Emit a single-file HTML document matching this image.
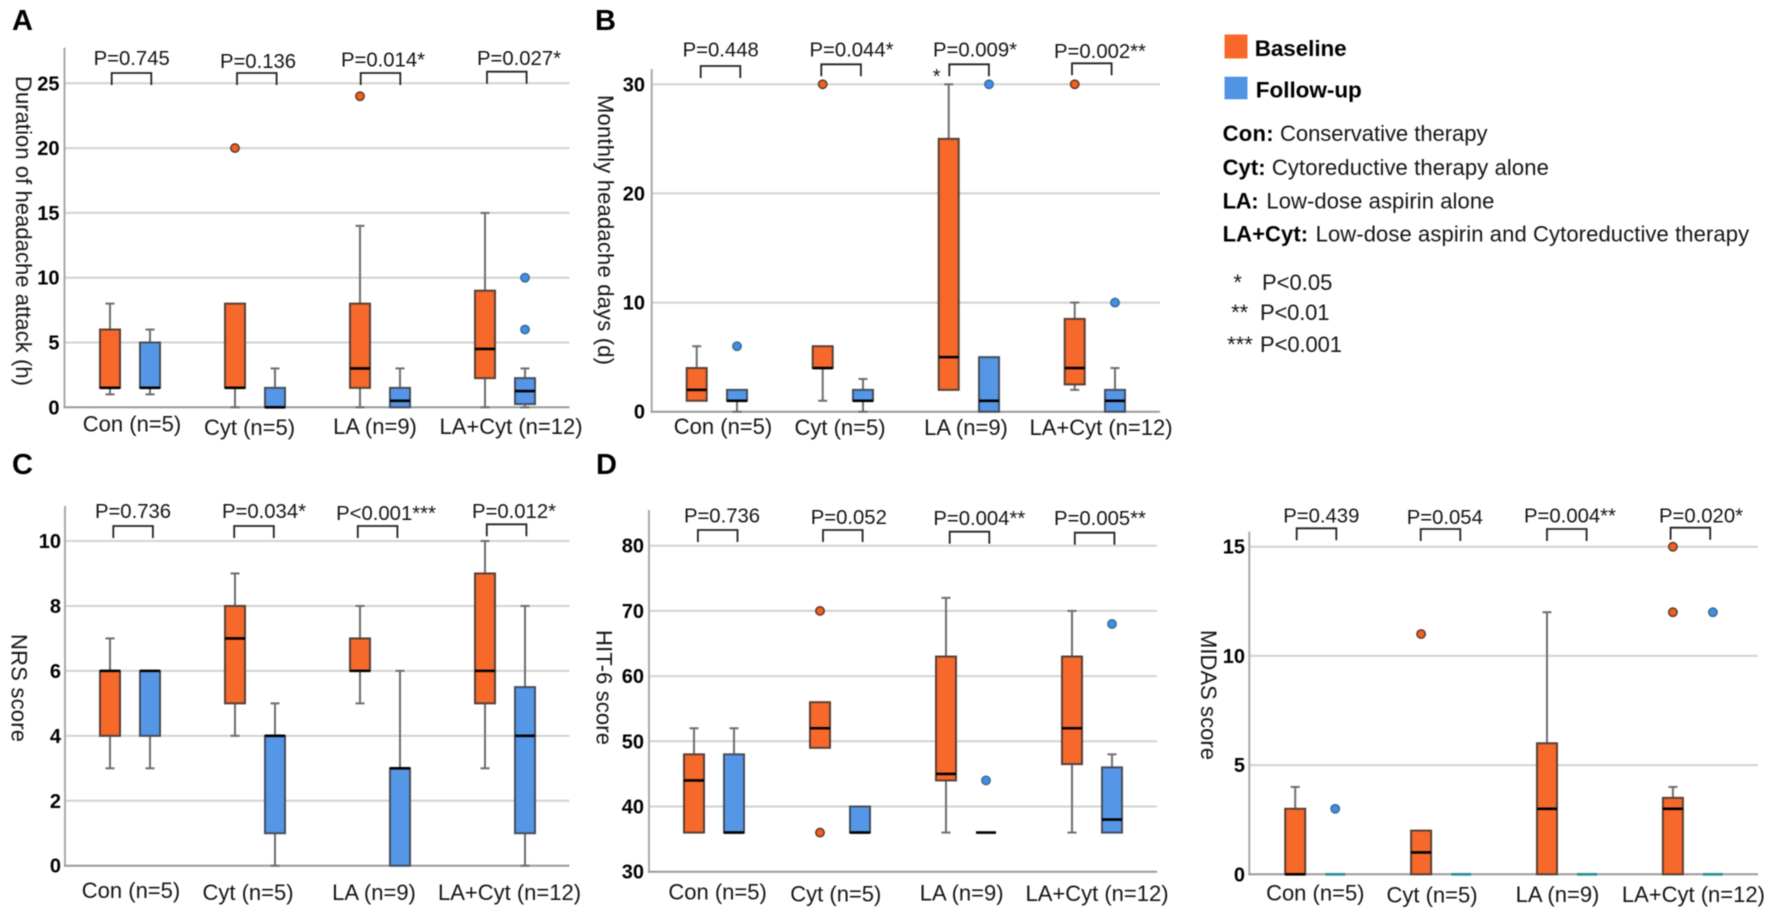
<!DOCTYPE html>
<html lang="en">
<head>
<meta charset="utf-8">
<title>Headache outcomes at baseline and follow-up</title>
<style>
html,body{margin:0;padding:0;background:#fff;}
#figure{display:block;width:1772px;height:914px;filter:blur(0.55px);font-family:"Liberation Sans",Arial,sans-serif;}
text{fill:#141414;}
.lg{font-size:22px;}
.lgb{font-size:22px;font-weight:bold;fill:#000;}
.sig{font-size:22px;}
.letter{font-size:29px;font-weight:bold;fill:#000;}
</style>
</head>
<body>
<svg id="figure" xmlns="http://www.w3.org/2000/svg" width="1772" height="914" viewBox="0 0 1772 914">
  <rect x="0" y="0" width="1772" height="914" fill="#fff"/>
  <text class="letter" x="12" y="30">A</text>
  <text class="letter" x="595" y="30">B</text>
  <text class="letter" x="12" y="474">C</text>
  <text class="letter" x="596" y="474">D</text>

  <g>
    <g>
      <rect x="1224.5" y="34.5" width="23" height="24" fill="#f8682a"/>
      <text x="1254.7" y="56" font-size="22.5" font-weight="bold" style="fill:#000" textLength="92">Baseline</text>
    </g>
    <g>
      <rect x="1224.5" y="76.7" width="23" height="22.6" fill="#5294e4"/>
      <text x="1255.8" y="97.3" font-size="22.5" font-weight="bold" style="fill:#000" textLength="106">Follow-up</text>
    </g>
    <g>
      <text class="lgb" x="1222.6" y="141" textLength="51">Con:</text>
      <text class="lg" x="1280" y="141" textLength="207.5">Conservative therapy</text>
    </g>
    <g>
      <text class="lgb" x="1222.6" y="175" textLength="43">Cyt:</text>
      <text class="lg" x="1271.9" y="175" textLength="277">Cytoreductive therapy alone</text>
    </g>
    <g>
      <text class="lgb" x="1222.6" y="208.3" textLength="36">LA:</text>
      <text class="lg" x="1266.4" y="208.3" textLength="228">Low-dose aspirin alone</text>
    </g>
    <g>
      <text class="lgb" x="1222.6" y="241.7" textLength="85.5">LA+Cyt:</text>
      <text class="lg" x="1315.6" y="241.7" textLength="433.5">Low-dose aspirin and Cytoreductive therapy</text>
    </g>
    <g>
      <text class="sig" x="1237.6" y="290" text-anchor="middle">*</text>
      <text class="sig" x="1262" y="290" textLength="70.4">P&lt;0.05</text>
      <text class="sig" x="1239.7" y="320" text-anchor="middle">**</text>
      <text class="sig" x="1260" y="320" textLength="69.5">P&lt;0.01</text>
      <text class="sig" x="1240" y="352" text-anchor="middle">***</text>
      <text class="sig" x="1260" y="352" textLength="82">P&lt;0.001</text>
    </g>
  </g>
</svg>

<script>
// ---------- Data ----------
// Each box: [lower whisker, Q1, median, Q3, upper whisker]
const groupLabels = ['Con (n=5)', 'Cyt (n=5)', 'LA (n=9)', 'LA+Cyt (n=12)'];

const durationTicks = [0, 5, 10, 15, 20, 25];
const durationBaseline = [[1, 1.5, 1.5, 6, 8], [0, 1.5, 1.5, 8, 8], [0, 1.5, 3, 8, 14], [0, 2.25, 4.5, 9, 15]];
const durationFollowUp = [[1, 1.5, 1.5, 5, 6], [0, 0, 0, 1.5, 3], [0, 0, 0.5, 1.5, 3], [0, 0.25, 1.25, 2.25, 3]];
const durationBaselineOutliers = [[], [20], [24], []];
const durationFollowUpOutliers = [[], [], [], [6, 10]];
const durationPValues = ['P=0.745', 'P=0.136', 'P=0.014*', 'P=0.027*'];

const daysTicks = [0, 10, 20, 30];
const daysBaseline = [[1, 1, 2, 4, 6], [1, 4, 4, 6, 6], [2, 2, 5, 25, 30], [2, 2.5, 4, 8.5, 10]];
const daysFollowUp = [[0, 1, 1, 2, 2], [0, 1, 1, 2, 3], [0, 0, 1, 5, 5], [0, 0, 1, 2, 4]];
const daysBaselineOutliers = [[], [30], [], [30]];
const daysFollowUpOutliers = [[6], [], [30], [10]];
const daysPValues = ['P=0.448', 'P=0.044*', 'P=0.009*', 'P=0.002**'];

const nrsTicks = [0, 2, 4, 6, 8, 10];
const nrsBaseline = [[3, 4, 6, 6, 7], [4, 5, 7, 8, 9], [5, 6, 6, 7, 8], [3, 5, 6, 9, 10]];
const nrsFollowUp = [[3, 4, 6, 6, 6], [0, 1, 4, 4, 5], [0, 0, 3, 3, 6], [0, 1, 4, 5.5, 8]];
const nrsBaselineOutliers = [[], [], [], []];
const nrsFollowUpOutliers = [[], [], [], []];
const nrsPValues = ['P=0.736', 'P=0.034*', 'P<0.001***', 'P=0.012*'];

const hitTicks = [30, 40, 50, 60, 70, 80];
const hitBaseline = [[36, 36, 44, 48, 52], [49, 49, 52, 56, 56], [36, 44, 45, 63, 72], [36, 46.5, 52, 63, 70]];
const hitFollowUp = [[36, 36, 36, 48, 52], [36, 36, 36, 40, 40], [36, 36, 36, 36, 36], [36, 36, 38, 46, 48]];
const hitBaselineOutliers = [[], [36, 70], [], []];
const hitFollowUpOutliers = [[], [], [44], [68]];
const hitPValues = ['P=0.736', 'P=0.052', 'P=0.004**', 'P=0.005**'];

const midasTicks = [0, 5, 10, 15];
const midasBaseline = [[0, 0, 0, 3, 4], [0, 0, 1, 2, 2], [0, 0, 3, 6, 12], [0, 0, 3, 3.5, 4]];
const midasFollowUp = [[0, 0, 0, 0, 0], [0, 0, 0, 0, 0], [0, 0, 0, 0, 0], [0, 0, 0, 0, 0]];
const midasBaselineOutliers = [[], [11], [], [12, 15]];
const midasFollowUpOutliers = [[3], [], [], [12]];
const midasPValues = ['P=0.439', 'P=0.054', 'P=0.004**', 'P=0.020*'];

// ---------- Panels: layout is kept apart from the data ----------
const panels = [
  { id: 'duration', title: 'Duration of headache attack (h)', ticks: durationTicks,
    baseline: durationBaseline, followUp: durationFollowUp,
    baselineOutliers: durationBaselineOutliers, followUpOutliers: durationFollowUpOutliers, pValues: durationPValues,
    layout: { axisX: 64.5, right: 569.5, top: 47.7, yBottom: 407.3, yTop: 83.3, tickRight: 59.5,
      first: 110, step: 125, gap: 40, titleX: 23, titleY: 231, titleLen: 310,
      pX: [131.7, 258, 383, 519], pY: [65, 68, 66.7, 65], labelX: [132, 249.5, 375, 511], labelY: [431.7, 435, 434, 434],
      bracketNudge: [1.7, 2, 0.7, 2], bracketTop: [73, 73, 73, 71.7] } },
  { id: 'monthly-days', title: 'Monthly headache days (d)', ticks: daysTicks,
    baseline: daysBaseline, followUp: daysFollowUp,
    baselineOutliers: daysBaselineOutliers, followUpOutliers: daysFollowUpOutliers, pValues: daysPValues,
    layout: { axisX: 651.7, right: 1160, top: 69, yBottom: 411.7, yTop: 84.3, tickRight: 645,
      first: 696.7, step: 126, gap: 40.3, titleX: 605, titleY: 230, titleLen: 270,
      pX: [720.7, 851.5, 975, 1100], pY: [56.7, 56.7, 56.7, 58], labelX: [723, 840, 966, 1101], labelY: [434, 435, 435, 435],
      bracketNudge: [4, -1.4, 0.6, -2.7], bracketTop: [66, 64.3, 64.3, 63.3] } },
  { id: 'nrs', title: 'NRS score', ticks: nrsTicks,
    baseline: nrsBaseline, followUp: nrsFollowUp,
    baselineOutliers: nrsBaselineOutliers, followUpOutliers: nrsFollowUpOutliers, pValues: nrsPValues,
    layout: { axisX: 65, right: 569.5, top: 506, yBottom: 865.7, yTop: 541, tickRight: 61,
      first: 110, step: 125, gap: 40, titleX: 18.5, titleY: 688, titleLen: 108,
      pX: [133, 264, 386, 514], pY: [518, 518, 520, 518], labelX: [131, 248, 374, 509.5], labelY: [898, 900, 900, 900],
      bracketNudge: [3.3, -0.8, -2.2, 1.8], bracketTop: [526, 526, 526, 524.3] } },
  { id: 'hit6', title: 'HIT-6 score', ticks: hitTicks,
    baseline: hitBaseline, followUp: hitFollowUp,
    baselineOutliers: hitBaselineOutliers, followUpOutliers: hitFollowUpOutliers, pValues: hitPValues,
    layout: { axisX: 649, right: 1157, top: 510, yBottom: 871.7, yTop: 545.7, tickRight: 644,
      first: 694, step: 126, gap: 40, titleX: 603.7, titleY: 687.5, titleLen: 115,
      pX: [722, 848.8, 979.3, 1100], pY: [522.3, 524, 525, 525], labelX: [717.6, 835.8, 961.7, 1097], labelY: [899.3, 901.7, 900.5, 901],
      bracketNudge: [3.9, 3, 3.7, 2.8], bracketTop: [530, 530, 531.7, 532.7] } },
  { id: 'midas', title: 'MIDAS score', ticks: midasTicks,
    baseline: midasBaseline, followUp: midasFollowUp,
    baselineOutliers: midasBaselineOutliers, followUpOutliers: midasFollowUpOutliers, pValues: midasPValues,
    layout: { axisX: 1249.3, right: 1758, top: 531.7, yBottom: 874.3, yTop: 546.7, tickRight: 1245,
      first: 1295.2, step: 125.9, gap: 40, titleX: 1208, titleY: 695, titleLen: 130, flatColor: '#2a8f90',
      pX: [1321.3, 1444.8, 1570, 1701], pY: [522.3, 524, 522.5, 522.5], labelX: [1315.3, 1432, 1557.5, 1693.4], labelY: [900.7, 902.7, 902, 902],
      bracketNudge: [1.5, -0.4, 0, -2.3], bracketTop: [528.3, 529, 529, 527.7] } }
];

const svg = document.getElementById('figure');
const NS = 'http://www.w3.org/2000/svg';
const ORANGE = '#f6692b', BLUE = '#5696e6';

function mk(tag, attrs, parent, content) {
  const el = document.createElementNS(NS, tag);
  for (const k in attrs) el.setAttribute(k, attrs[k]);
  if (content !== undefined) el.textContent = content;
  parent.appendChild(el);
  return el;
}

function drawBox(parent, x, v, fill, edge, y, flatColor, name) {
  const g = mk('g', {}, parent);
  
  
  const low = v[0], q1 = v[1], med = v[2], q3 = v[3], high = v[4];
  const halfBox = 10, halfCap = 4.5;
  const drawWhisker = (a, b) => {
    const stem = mk('line', { x1: x, x2: x, y1: y(a), y2: y(b), stroke: '#6e6e6e', 'stroke-width': 2 }, g);
    
    
    const cap = mk('line', { x1: x - halfCap, x2: x + halfCap, y1: y(b), y2: y(b), stroke: '#6e6e6e', 'stroke-width': 2 }, g);
    
    
  };
  if (low < q1) drawWhisker(q1, low);
  if (high > q3) drawWhisker(q3, high);
  if (q3 > q1) {
    const rect = mk('rect', { x: x - halfBox, y: y(q3), width: halfBox * 2, height: y(q1) - y(q3), fill: fill, stroke: edge, 'stroke-width': 2 }, g);
    
    
  }
  const medColor = (q3 === q1 && flatColor) ? flatColor : '#000';
  const median = mk('line', { x1: x - halfBox, x2: x + halfBox, y1: y(med), y2: y(med), stroke: medColor, 'stroke-width': 2.6 }, g);
  
  
}

function drawOutliers(parent, x, values, fill, edge, y, name) {
  values.forEach(function (val) {
    const c = mk('circle', { cx: x, cy: y(val), r: 4.2, fill: fill, stroke: edge, 'stroke-width': 1.5 }, parent);
    
    
  });
}

panels.forEach(function (p) {
  const L = p.layout;
  const vMin = p.ticks[0], vMax = p.ticks[p.ticks.length - 1];
  const y = function (v) { return L.yBottom - (v - vMin) / (vMax - vMin) * (L.yBottom - L.yTop); };
  const xBase = function (i) { return L.first + i * L.step; };
  const xFollow = function (i) { return xBase(i) + L.gap; };

  const g = mk('g', {}, svg);
  
  

  // gridlines and tick labels
  p.ticks.forEach(function (t, i) {
    if (i > 0) {
      const gl = mk('line', { x1: L.axisX, x2: L.right, y1: y(t), y2: y(t), stroke: '#d2d2d2', 'stroke-width': 2 }, g);
      
      
    }
    const tl = mk('text', { x: L.tickRight, y: y(t) + 7, 'text-anchor': 'end', 'font-size': 20, 'font-weight': 'bold', style: 'fill:#000' }, g, String(t));
    
    
  });

  // axes
  const ya = mk('line', { x1: L.axisX, x2: L.axisX, y1: L.top, y2: L.yBottom + 1, stroke: '#a9a9a9', 'stroke-width': 2 }, g);
  
  
  const xa = mk('line', { x1: L.axisX - 1, x2: L.right, y1: L.yBottom, y2: L.yBottom, stroke: '#9a9a9a', 'stroke-width': 2 }, g);
  
  

  // axis title
  const title = mk('text', { 'text-anchor': 'middle', 'font-size': 22, textLength: L.titleLen, transform: 'translate(' + (L.titleX - 7) + ',' + L.titleY + ') rotate(90)' }, g, p.title);
  
  

  // boxes and outliers
  groupLabels.forEach(function (label, i) {
    drawBox(g, xBase(i), p.baseline[i], ORANGE, '#5a4034', y, null, 'box-baseline-' + i);
    drawBox(g, xFollow(i), p.followUp[i], BLUE, '#434f5e', y, L.flatColor, 'box-follow-up-' + i);
    drawOutliers(g, xBase(i), p.baselineOutliers[i], '#f4611f', '#5e3a2a', y, 'outlier-baseline');
    drawOutliers(g, xFollow(i), p.followUpOutliers[i], '#3f8fe3', '#3f6a96', y, 'outlier-follow-up');

    const xl = mk('text', { x: L.labelX[i], y: L.labelY[i], 'text-anchor': 'middle', 'font-size': 22 }, g, label);
    
    

    const left = xBase(i) + L.bracketNudge[i], top = L.bracketTop[i];
    const br = mk('path', { d: 'M' + left + ' ' + (top + 12) + 'V' + top + 'H' + (left + 39.6) + 'V' + (top + 12), fill: 'none', stroke: '#222', 'stroke-width': 1.8 }, g);
    
    

    const pl = mk('text', { x: L.pX[i], y: L.pY[i], 'text-anchor': 'middle', 'font-size': 20.3 }, g, p.pValues[i]);
    
    
  });
});

// stray asterisk beside the LA bracket in panel B
const strayStar = mk('text', { x: 936.7, y: 83, 'text-anchor': 'middle', 'font-size': 20 }, svg, '*');


</script>
</body>
</html>
